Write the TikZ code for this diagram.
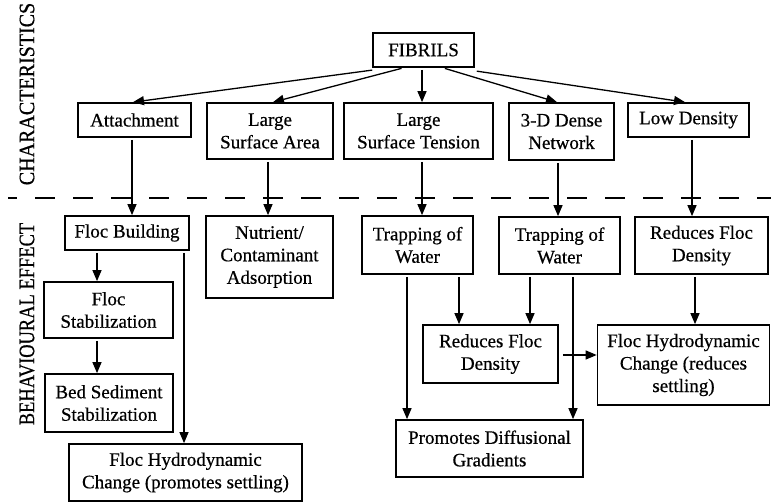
\documentclass[tikz,border=0pt]{standalone}
\usepackage{fontspec}
\setmainfont{Liberation Serif}
\newfontfamily\boxfont{Liberation Serif}[FakeBold=0.6]
\usetikzlibrary{arrows.meta}
\begin{document}
\begin{tikzpicture}[x=1pt,y=-1pt,
  box/.style={draw,line width=1.7pt,rectangle,inner sep=0pt,align=center,
    font=\boxfont\fontsize{19}{22.5}\selectfont},
  arr/.style={line width=1.3pt,-{Triangle[length=11pt,width=9pt]},shorten <=2pt},
  side/.style={rotate=90,inner sep=0pt,font=\boxfont\fontsize{22}{24}\selectfont}]
\useasboundingbox (0,0) rectangle (771,502);
% characteristics
\node[box,minimum width=101,minimum height=34] (fib) at (423.5,50) {FIBRILS};
\node[box,minimum width=113,minimum height=34] (att) at (134.5,120) {Attachment};
\node[box,minimum width=126,minimum height=56] (lsa) at (270,131) {Large\\Surface Area};
\node[box,minimum width=149,minimum height=56] (lst) at (418.5,131) {Large\\Surface Tension};
\node[box,minimum width=105,minimum height=57] (dense) at (561.5,131.5) {3-D Dense\\Network};
\node[box,minimum width=121,minimum height=34] (low) at (688.5,120) {Low Density};
% behaviour
\node[box,minimum width=124,minimum height=34] (fb) at (127,233) {Floc Building};
\node[box,minimum width=127,minimum height=82] (nut) at (269.5,257) {Nutrient/\\Contaminant\\Adsorption};
\node[box,minimum width=111,minimum height=58] (tw1) at (417.5,245) {Trapping of\\Water};
\node[box,minimum width=121,minimum height=57] (tw2) at (559.5,245.5) {Trapping of\\Water};
\node[box,minimum width=133,minimum height=57] (rfd1) at (701.5,245.5) {Reduces Floc\\Density};
\node[box,minimum width=129,minimum height=56] (fs) at (108.5,310) {Floc\\Stabilization};
\node[box,minimum width=128,minimum height=58] (bss) at (109,403) {Bed Sediment\\Stabilization};
\node[box,minimum width=233,minimum height=57] (fhc1) at (185.5,472.5) {Floc Hydrodynamic\\Change (promotes settling)};
\node[box,minimum width=135,minimum height=58] (rfd2) at (490.5,354) {Reduces Floc\\Density};
\node[box,minimum width=172,minimum height=80] (fhc2) at (683.5,365) {Floc Hydrodynamic\\Change (reduces\\settling)};
\node[box,minimum width=187,minimum height=57] (pdg) at (489.5,448.5) {Promotes Diffusional\\Gradients};
% side labels
\node[side] (lab1) at (27,94) {\scalebox{0.91}[1]{CHARACTERISTICS}};
\node[side] (lab2) at (27,324) {\scalebox{0.84}[1]{BEHAVIOURAL EFFECT}};
% dashed separator
\draw[line width=1.8pt,dash pattern=on 20pt off 18pt,dash phase=11pt] (8,198) -- (771,198);
% arrows from fibrils
\draw[arr] ([xshift=2pt,yshift=-2pt]fib.south west) -- ([xshift=-1.5pt]att.north);
\draw[arr] ([xshift=-20pt]fib.south) -- ([xshift=3pt]lsa.north);
\draw[arr] ([xshift=-1.5pt]fib.south) -- ([xshift=-1.5pt]fib.south |- lst.north);
\draw[arr] ([xshift=19.5pt]fib.south) -- ([xshift=-4.5pt]dense.north);
\draw[arr] ([yshift=-3pt]fib.south east) -- ([xshift=-3.5pt]low.north);
% characteristics to behaviour
\draw[arr] ([xshift=-2.5pt]att.south) -- ([xshift=-2.5pt]att.south |- fb.north);
\draw[arr] ([xshift=-2pt]lsa.south) -- ([xshift=-2pt]lsa.south |- nut.north);
\draw[arr] ([xshift=3.5pt]lst.south) -- ([xshift=3.5pt]lst.south |- tw1.north);
\draw[arr] ([xshift=-3.5pt]dense.south) -- ([xshift=-3.5pt]dense.south |- tw2.north);
\draw[arr] ([xshift=3.5pt]low.south) -- ([xshift=3.5pt]low.south |- rfd1.north);
% behaviour internal
\draw[arr] ([xshift=-30pt]fb.south) -- ([xshift=-30pt]fb.south |- fs.north);
\draw[arr] ([xshift=-11.5pt]fs.south) -- ([xshift=-11.5pt]fs.south |- bss.north);
\draw[arr] ([xshift=57pt]fb.south) -- ([xshift=57pt]fb.south |- fhc1.north);
\draw[arr] ([xshift=-10.5pt]tw1.south) -- ([xshift=-10.5pt]tw1.south |- pdg.north);
\draw[arr] ([xshift=41.5pt]tw1.south) -- ([xshift=41.5pt]tw1.south |- rfd2.north);
\draw[arr] ([xshift=-29.5pt]tw2.south) -- ([xshift=-29.5pt]tw2.south |- rfd2.north);
\draw[arr] ([xshift=13.5pt]tw2.south) -- ([xshift=13.5pt]tw2.south |- pdg.north);
\draw[arr] ([xshift=-6.5pt]rfd1.south) -- ([xshift=-6.5pt]rfd1.south |- fhc2.north);
\draw[arr,shorten <=4pt] ([yshift=-1pt]rfd2.east) -- ([yshift=-1pt]rfd2.east -| fhc2.west);
\end{tikzpicture}
\end{document}
